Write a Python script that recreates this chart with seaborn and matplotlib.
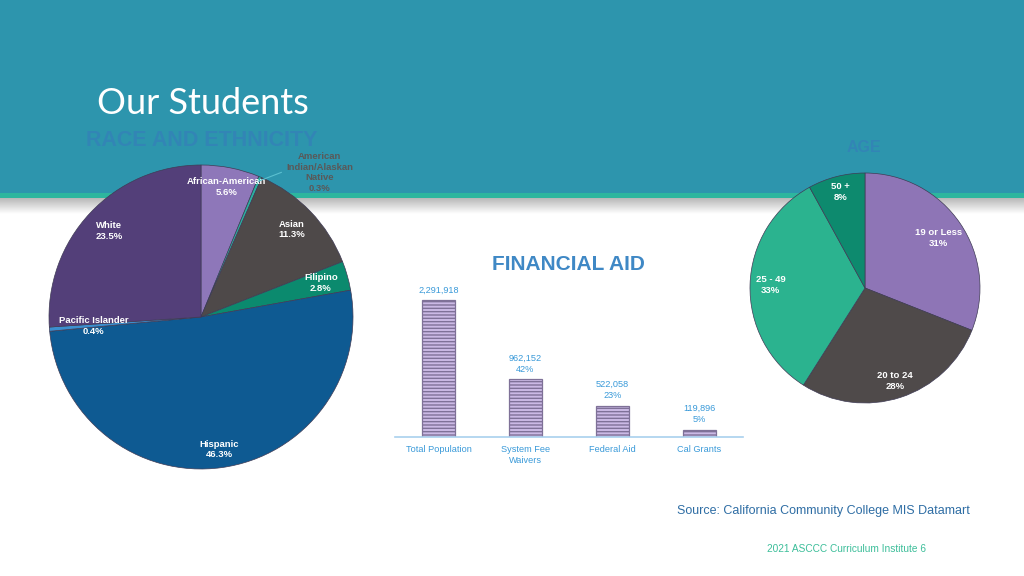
import numpy as np
import matplotlib
matplotlib.use("Agg")
import matplotlib.pyplot as plt
import seaborn as sns
from matplotlib.patches import Rectangle

# Data
race_labels = ['African-American', 'American\nIndian/Alaskan\nNative', 'Asian', 'Filipino',
               'Hispanic', 'Pacific Islander', 'White']
race_values = [5.6, 0.3, 11.3, 2.8, 46.3, 0.4, 23.5]
race_colors = ['#8E77B9', '#2BAFA0', '#4E4949', '#0B8A6E', '#0E5A92', '#3C8FCF', '#533F79']

age_labels = ['19 or Less', '20 to 24', '25 - 49', '50 +']
age_values = [31, 28, 33, 8]
age_colors = ['#8E75B6', '#4F4A4A', '#2BB38F', '#0D8A6E']

aid_categories = ['Total Population', 'System Fee\nWaivers', 'Federal Aid', 'Cal Grants']
aid_values = [2291918, 962152, 522058, 119896]

sns.set_theme(style='white')
plt.rcParams['font.family'] = ['Liberation Sans', 'DejaVu Sans']
plt.rcParams['hatch.linewidth'] = 1.0

W, H = 1024, 576
fig = plt.figure(figsize=(W / 100, H / 100), dpi=100)
fig.patch.set_facecolor('white')


def px_axes(cx, cy, w, h):
    # axes from pixel box (left, top, width, height)
    return fig.add_axes([cx / W, 1 - (cy + h) / H, w / W, h / H])


# Background: header band, stripe, shadow
bg = fig.add_axes([0, 0, 1, 1], zorder=-5)
bg.axis('off')
bg.add_patch(Rectangle((0, 0), W, 193, color='#2D95AD', lw=0))
bg.add_patch(Rectangle((0, 193), W, 5, color='#2DB69E', lw=0))
grad = np.linspace(0.72, 1.0, 50).reshape(-1, 1)
bg.imshow(grad, extent=(0, W, 214, 198), cmap='gray', vmin=0, vmax=1, aspect='auto')
bg.set_xlim(0, W)
bg.set_ylim(H, 0)

bg.text(97, 103, 'Our Students', color='white', fontsize=26, family='Lato',
        va='center', ha='left')
bg.text(202, 141, 'RACE AND ETHNICITY', color='#3A6FC2', fontsize=15.5, fontweight='bold',
        ha='center', va='center', alpha=0.42)
bg.text(864, 148, 'AGE', color='#3A6FC2', fontsize=11.5, fontweight='bold',
        ha='center', va='center', alpha=0.42)
bg.text(677, 511, 'Source: California Community College MIS Datamart', color='#2E6DA4',
        fontsize=9, ha='left', va='center')
bg.text(767, 549, '2021 ASCCC Curriculum Institute 6', color='#3DBE9A',
        fontsize=7.3, ha='left', va='center')


def place_labels(ax, wedges, texts, radii, color='white'):
    for w, t, r in zip(wedges, texts, radii):
        if t is None:
            continue
        ang = np.deg2rad((w.theta1 + w.theta2) / 2)
        ax.text(r * np.cos(ang), r * np.sin(ang), t, ha='center', va='center',
                color=color, fontsize=6.8, fontweight='bold', linespacing=1.25)


# Race pie
R1 = 152
ax1 = px_axes(201 - R1, 317 - R1, 2 * R1, 2 * R1)
w1, _ = ax1.pie(race_values, colors=race_colors, startangle=90, counterclock=False,
                wedgeprops=dict(edgecolor='#3F3B55', linewidth=0.5))
ax1.set_xlim(-1, 1)
ax1.set_ylim(-1, 1)
race_text = [f'{l}\n{v}%' for l, v in zip(race_labels, race_values)]
race_text[1] = None
place_labels(ax1, w1, race_text, [0.87, 0, 0.83, 0.82, 0.88, 0.71, 0.83])
# outside label for the tiny slice
ai = w1[1]
ang = np.deg2rad((ai.theta1 + ai.theta2) / 2)
ax1.annotate(f'{race_labels[1]}\n{race_values[1]}%', xy=(0.97 * np.cos(ang), 0.97 * np.sin(ang)),
             xytext=(0.78, 0.95), ha='center', va='center', color='#595959',
             fontsize=6.8, fontweight='bold', linespacing=1.25,
             arrowprops=dict(arrowstyle='-', color='#5BC0D0', lw=0.8, shrinkA=1, shrinkB=0,
                             relpos=(0.0, 0.55)),
             annotation_clip=False)

# Age pie
R2 = 115
ax2 = px_axes(865 - R2, 288 - R2, 2 * R2, 2 * R2)
w2, _ = ax2.pie(age_values, colors=age_colors, startangle=90, counterclock=False,
                wedgeprops=dict(edgecolor='#3F3B55', linewidth=0.5))
ax2.set_xlim(-1, 1)
ax2.set_ylim(-1, 1)
age_text = [f'{l}\n{v}%' for l, v in zip(age_labels, age_values)]
place_labels(ax2, w2, age_text, [0.77, 0.85, 0.82, 0.86])

# Financial aid bars
ymax = 2500000
bar_h = (437 - 300) * ymax / aid_values[0]
ax3 = px_axes(395, 437 - bar_h, 348, bar_h)
sns.barplot(x=aid_categories, y=aid_values, ax=ax3, color='#CBB9E5', width=0.38,
            saturation=1)
for p in ax3.patches:
    p.set_hatch('-----')
    p.set_edgecolor('#7F7198')
    p.set_linewidth(0.9)
ax3.set_ylim(0, ymax)
ax3.set_xlim(-0.5, 3.5)
ax3.set_yticks([])
ax3.set_ylabel('')
for s in ['top', 'left', 'right']:
    ax3.spines[s].set_visible(False)
ax3.spines['bottom'].set_color('#A9D1EE')
ax3.spines['bottom'].set_linewidth(1.2)
ax3.tick_params(axis='x', length=0, pad=6, labelsize=6.6, labelcolor='#3A9AD9')
for lab in ax3.get_xticklabels():
    lab.set_linespacing(1.3)
ax3.patch.set_alpha(0)

total = aid_values[0]
for i, v in enumerate(aid_values):
    txt = f'{v:,}' if i == 0 else f'{v:,}\n{v / total:.0%}'
    ax3.annotate(txt, (i, v), xytext=(0, 4), textcoords='offset points', ha='center',
                 va='bottom', color='#3A9AD9', fontsize=6.6, linespacing=1.35)

bg.text(568, 264, 'FINANCIAL AID', color='#3F88C5', fontsize=15, fontweight='bold',
        ha='center', va='center')

fig.savefig('out.png', dpi=100)
